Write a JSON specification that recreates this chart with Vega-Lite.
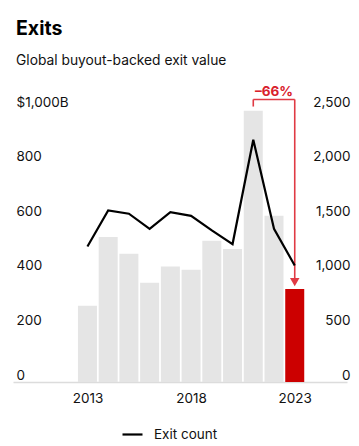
{
  "$schema": "https://vega.github.io/schema/vega-lite/v6.json",
  "autosize": {"type": "none"},
  "width": 334,
  "height": 273,
  "padding": {"left": 13, "top": 109, "right": 12, "bottom": 64},
  "background": "white",
  "config": {
    "font": "Inter",
    "view": {"stroke": null},
    "axis": {"labelFont": "Inter", "labelFontSize": 13.5, "labelColor": "#111"}
  },
  "title": {
    "text": "Exits",
    "subtitle": "Global buyout-backed exit value",
    "anchor": "start",
    "frame": "group",
    "dx": 3,
    "offset": 16,
    "font": "Inter",
    "fontSize": 19.5,
    "fontWeight": "bold",
    "color": "#000",
    "subtitleFont": "Inter",
    "subtitleFontSize": 13.8,
    "subtitleColor": "#111",
    "subtitlePadding": 14
  },
  "datasets": {
    "main": [
      {"year": 2013, "value": 279, "count": 1241},
      {"year": 2014, "value": 531, "count": 1571},
      {"year": 2015, "value": 470, "count": 1541},
      {"year": 2016, "value": 364, "count": 1403},
      {"year": 2017, "value": 423, "count": 1556},
      {"year": 2018, "value": 411, "count": 1522},
      {"year": 2019, "value": 517, "count": 1388},
      {"year": 2020, "value": 487, "count": 1263},
      {"year": 2021, "value": 994, "count": 2219},
      {"year": 2022, "value": 609, "count": 1403},
      {"year": 2023, "value": 341, "count": 1067}
    ],
    "bracket": [
      {"year": 2021, "year2": 2023, "value": 1035, "value2": 1035},
      {"year": 2021, "year2": 2021, "value": 1035, "value2": 1009},
      {"year": 2023, "year2": 2023, "value": 1035, "value2": 372}
    ],
    "arrow": [{"year": 2023, "value": 366}],
    "label": [{"year": 2022, "value": 1064, "text": "–66%"}]
  },
  "layer": [
    {
      "layer": [
        {
          "data": {"name": "main"},
          "mark": {"type": "bar", "width": 19},
          "encoding": {
            "x": {
              "field": "year", "type": "quantitative",
              "scale": {"domain": [2009.65, 2025.28], "nice": false, "zero": false},
              "axis": {
                "values": [2013, 2018, 2023], "format": "d", "title": null,
                "grid": false, "ticks": false, "domain": true, "domainColor": "#dcdcdc", "domainWidth": 1.5,
                "labelPadding": 9
              }
            },
            "y": {
              "field": "value", "type": "quantitative",
              "scale": {"domain": [0, 1000], "nice": false},
              "axis": {
                "values": [0, 200, 400, 600, 800, 1000], "title": null, "grid": false,
                "ticks": false, "domain": false, "labelAlign": "left", "labelPadding": -3,
                "labelBaseline": "alphabetic", "labelOffset": -3,
                "labelExpr": "datum.value == 1000 ? '$1,000B' : datum.label"
              }
            },
            "color": {
              "condition": {"test": "datum.year == 2023", "value": "#cc0000"},
              "value": "#e5e5e5"
            }
          }
        },
        {
          "data": {"name": "bracket"},
          "mark": {"type": "rule", "color": "#e03a44", "strokeWidth": 1.6},
          "encoding": {
            "x": {"field": "year", "type": "quantitative"},
            "x2": {"field": "year2"},
            "y": {"field": "value", "type": "quantitative"},
            "y2": {"field": "value2"}
          }
        },
        {
          "data": {"name": "arrow"},
          "mark": {"type": "point", "shape": "triangle-down", "filled": true, "color": "#e03a44", "size": 90, "opacity": 1},
          "encoding": {
            "x": {"field": "year", "type": "quantitative"},
            "y": {"field": "value", "type": "quantitative"}
          }
        },
        {
          "data": {"name": "label"},
          "mark": {"type": "text", "color": "#d9202b", "fontSize": 13.5, "fontWeight": "bold", "font": "Inter", "baseline": "middle", "align": "center"},
          "encoding": {
            "x": {"field": "year", "type": "quantitative"},
            "y": {"field": "value", "type": "quantitative"},
            "text": {"field": "text"}
          }
        }
      ]
    },
    {
      "data": {"name": "main"},
      "mark": {"type": "line", "strokeWidth": 2.2},
      "encoding": {
        "x": {"field": "year", "type": "quantitative"},
        "y": {
          "field": "count", "type": "quantitative",
          "scale": {"domain": [0, 2500], "nice": false},
          "axis": {
            "orient": "right", "values": [0, 500, 1000, 1500, 2000, 2500], "format": ",d",
            "title": null, "grid": false, "ticks": false, "domain": false,
            "labelAlign": "right", "labelPadding": 3, "labelBaseline": "alphabetic", "labelOffset": -3
          }
        },
        "stroke": {
          "datum": "Exit count",
          "scale": {"range": ["#000000"]},
          "legend": {
            "title": null, "orient": "none", "legendX": 108, "legendY": 314,
            "symbolType": "stroke", "symbolSize": 400, "symbolStrokeWidth": 2.2,
            "labelFontSize": 13.5, "labelFont": "Inter", "labelColor": "#111", "padding": 0, "labelOffset": 10
          }
        }
      }
    }
  ],
  "resolve": {"scale": {"y": "independent"}}
}
